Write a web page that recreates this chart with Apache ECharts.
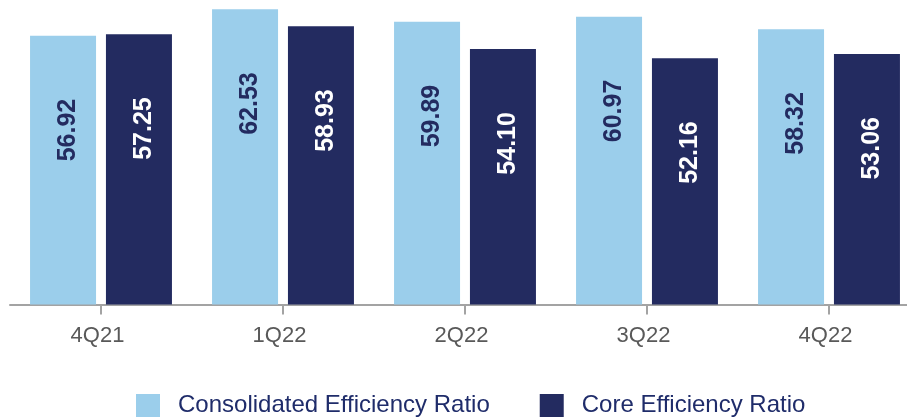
<!DOCTYPE html>
<html>
<head>
<meta charset="utf-8">
<script src="https://cdn.jsdelivr.net/npm/echarts@6/dist/echarts.min.js"></script>
<style>
  html, body { margin: 0; padding: 0; background: #ffffff; }
  #chart { width: 907px; height: 420px; }
</style>
</head>
<body>
<div id="chart"></div>
<script>
// Quarterly efficiency ratios (%)
const quarters = ['4Q21', '1Q22', '2Q22', '3Q22', '4Q22'];
const consolidatedRatio = [56.92, 62.53, 59.89, 60.97, 58.32];
const coreRatio = [57.25, 58.93, 54.10, 52.16, 53.06];

const LIGHT = '#9BCEEB';
const NAVY = '#232B60';
const FONT = 'Arial, "Liberation Sans", Helvetica, sans-serif';

// Value labels run bottom-to-top inside each bar, hanging from its top.
// The offset is in the rotated text frame: [along text, across text].
function barLabel(color) {
  return {
    show: true,
    position: 'insideTop',
    distance: 63,
    rotate: 90,
    align: 'right',
    verticalAlign: 'middle',
    offset: [0, 5],
    color: color,
    fontFamily: FONT,
    fontWeight: 'bold',
    fontSize: 25,
    formatter: p => p.value.toFixed(2)
  };
}

const chart = echarts.init(document.getElementById('chart'), null, { renderer: 'canvas' });
chart.setOption({
  animation: false,
  backgroundColor: '#ffffff',
  // the plot runs a little past the right edge, so the last category is clipped
  grid: {
    left: 10, width: 910, top: 0, bottom: 115.5,
    containLabel: false,
    outerBoundsMode: 'none'
  },
  legend: {
    left: 136,
    bottom: 2.5,
    padding: 0,
    itemWidth: 24,
    itemHeight: 23,
    itemGap: 50,
    icon: 'rect',
    textStyle: {
      color: '#1F2C6A',
      fontFamily: FONT,
      fontSize: 24,
      padding: [0, 0, 0, 13]
    },
    data: ['Consolidated Efficiency Ratio', 'Core Efficiency Ratio']
  },
  xAxis: {
    type: 'category',
    data: quarters,
    boundaryGap: true,
    axisLine: { lineStyle: { color: '#A3A3A3', width: 2 } },
    axisTick: { show: true, alignWithLabel: true, length: 10, lineStyle: { color: '#A3A3A3', width: 2 } },
    axisLabel: {
      color: '#595959', fontFamily: FONT, fontSize: 22, margin: 20,
      padding: [0, 7, 0, 0]
    }
  },
  yAxis: {
    type: 'value',
    min: 0,
    max: 64.5,
    show: false,
    splitLine: { show: false }
  },
  series: [
    {
      name: 'Consolidated Efficiency Ratio',
      type: 'bar',
      data: consolidatedRatio,
      barWidth: 66,
      barGap: '15%',
      itemStyle: { color: LIGHT },
      label: barLabel(NAVY)
    },
    {
      name: 'Core Efficiency Ratio',
      type: 'bar',
      data: coreRatio,
      barWidth: 66,
      barGap: '15%',
      itemStyle: { color: NAVY },
      label: barLabel('#ffffff')
    }
  ]
});
</script>
</body>
</html>
